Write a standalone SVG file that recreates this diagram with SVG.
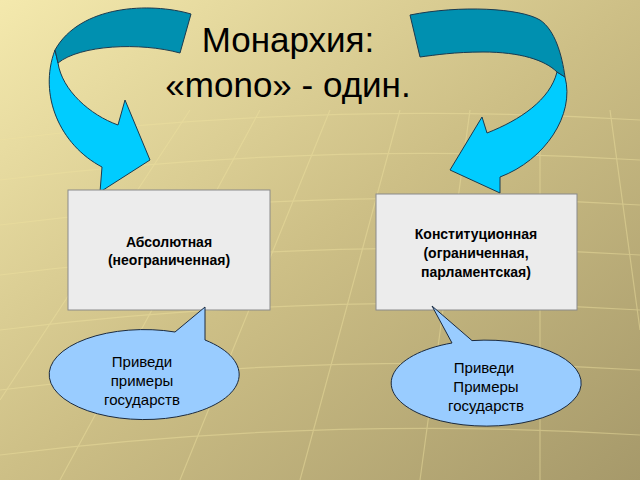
<svg xmlns="http://www.w3.org/2000/svg" width="640" height="480" viewBox="0 0 640 480">
<defs>
<linearGradient id="bg" x1="0" y1="0" x2="1" y2="1">
<stop offset="0" stop-color="#f4e9ad"/><stop offset="0.5" stop-color="#cdbf86"/><stop offset="1" stop-color="#a6996a"/>
</linearGradient>
<style>
.dark{fill:#0090b0;stroke:#1a3a50;stroke-width:1}
.light{fill:#00ccff;stroke:#1a3a50;stroke-width:1}
.box{fill:#ececec;stroke:#8a8a8a;stroke-width:1}
.bt{font-family:"Liberation Sans",Arial,sans-serif;font-size:14px;font-weight:bold;fill:#000;text-anchor:middle}
.ct{font-family:"Liberation Sans",Arial,sans-serif;font-size:15px;fill:#000;text-anchor:middle}
.call{fill:#99ccff;stroke:#1a2a40;stroke-width:1}
.grid{stroke:#efe2a0;stroke-width:1.2;opacity:0.45;fill:none}
</style>
</defs>
<rect width="640" height="480" fill="url(#bg)"/>
<g class="grid">
<path d="M0,140 Q320,100 640,120 M0,180 Q320,140 640,160 M0,225 Q320,185 640,205 M0,275 Q320,235 640,255 M0,330 Q320,290 640,310 M0,390 Q320,350 640,370 M0,455 Q320,415 640,435"/>
<path d="M60,480 L260,110 M180,480 L330,110 M300,480 L400,110 M420,480 L470,110 M540,480 L540,110 M0,400 L190,110 M640,330 L610,110"/>
</g>
<text x="288" y="52" font-family="Liberation Sans,Arial,sans-serif" font-size="35" text-anchor="middle" fill="#000">Монархия:</text>
<text x="288" y="97" font-family="Liberation Sans,Arial,sans-serif" font-size="35" text-anchor="middle" fill="#000">«mono» - один.</text>
<g id="connectors">
<g id="arrow-left">
<path class="light" d="M55,50 C38,95 60,145 102,167 L100,192 L150,160 L125,100 L118,125 C90,115 62,90 58,63 Z"/>
<path class="dark" d="M191,14 C150,2 80,5 55,50 L58,63 C80,45 140,42 180,53 Z"/>
</g>
<g id="arrow-right">
<path class="light" d="M565,77 C575,115 545,160 500,177 L500,193 L450,170 L482,117 L487,133 C520,120 550,100 557,72 Z"/>
<path class="dark" d="M410,15 C460,5 520,8 540,20 C555,30 562,55 565,77 L557,72 C545,60 520,52 483,52 C455,52 435,55 420,57 Z"/>
</g>
</g>
<g id="node-absolute">
<rect class="box" x="68" y="190" width="202" height="120"/>
<text class="bt" x="169" y="247">Абсолютная</text>
<text class="bt" x="169" y="265">(неограниченная)</text>
</g>
<g id="node-constitutional">
<rect class="box" x="376" y="194" width="201" height="116"/>
<text class="bt" x="476" y="239">Конституционная</text>
<text class="bt" x="476" y="258">(ограниченная,</text>
<text class="bt" x="476" y="277">парламентская)</text>
</g>
<g id="callout-left">
<path class="call" d="M175,332 L205,307 L205,340 A95,45 0 1,1 175,332 Z"/>
<text class="ct" x="142" y="367">Приведи</text>
<text class="ct" x="142" y="386">примеры</text>
<text class="ct" x="142" y="405">государств</text>
</g>
<g id="callout-right">
<path class="call" d="M432,306 L472,340.6 A95,43 0 1,1 452,343 Z"/>
<text class="ct" x="484" y="373">Приведи</text>
<text class="ct" x="486" y="392">Примеры</text>
<text class="ct" x="486" y="411">государств</text>
</g>
</svg>
